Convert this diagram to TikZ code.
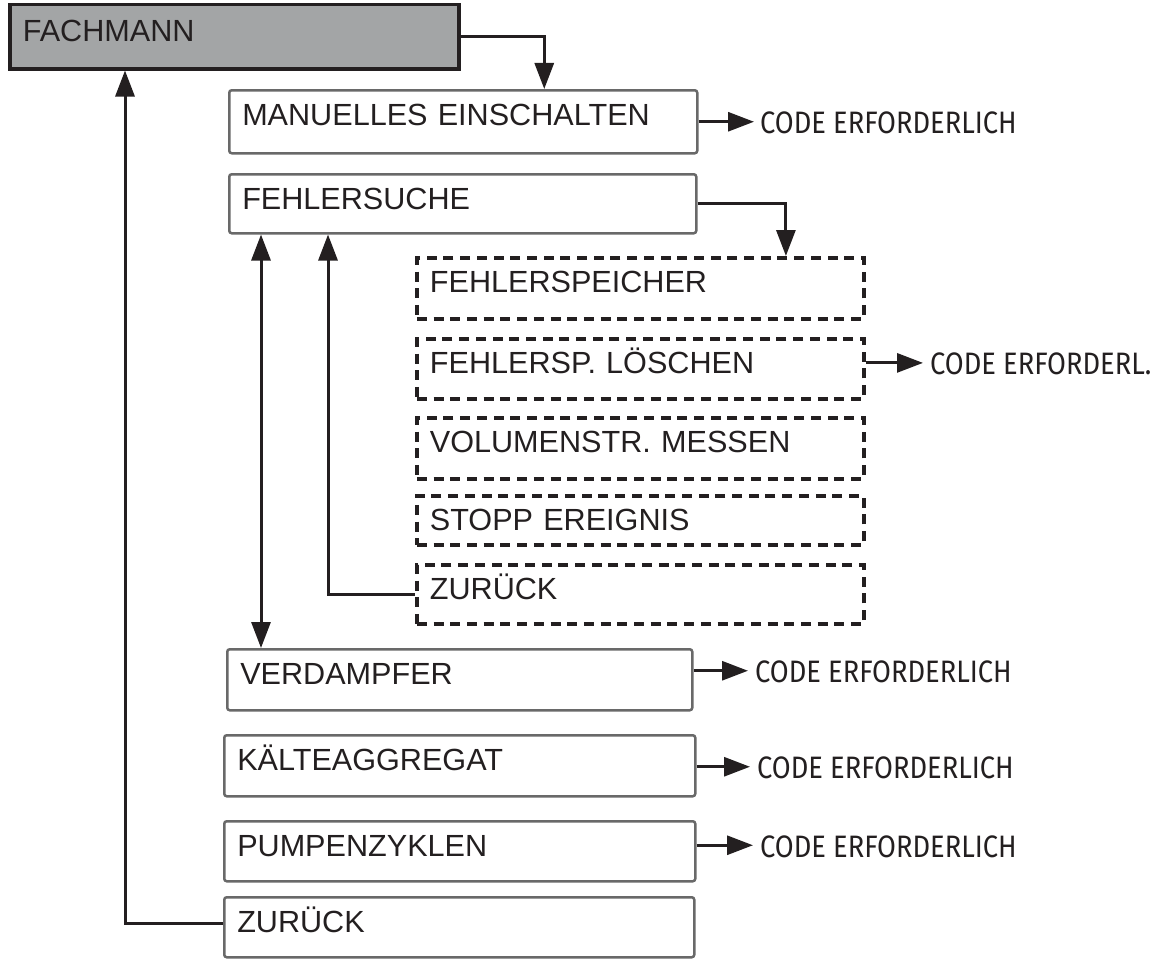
\documentclass[tikz,border=0pt]{standalone}
\usepackage{fontspec}
\setmainfont{Liberation Sans}
\newfontfamily\codefont[FakeStretch=0.88]{Fira Sans}
\usetikzlibrary{arrows.meta,calc}

\definecolor{ink}{RGB}{35,31,32}
\definecolor{headfill}{RGB}{163,165,166}
\definecolor{frame}{RGB}{105,105,105}

\tikzset{
  menubox/.style={draw=frame, line width=2.5pt, rounded corners=2.5pt,
    anchor=north west, inner xsep=13pt, inner ysep=0pt, align=left,
    text height=35pt, text=ink,
    font=\fontsize{30.6pt}{36pt}\selectfont},
  headbox/.style={menubox, draw=ink, line width=3.5pt, rounded corners=0pt,
    fill=headfill, text height=37pt},
  subbox/.style={menubox, draw=ink, line width=3.8pt, rounded corners=0pt,
    dash pattern=on 10pt off 6.7pt},
  codelabel/.style={anchor=west, inner sep=0pt, text=ink,
    font=\codefont\fontsize{31pt}{36pt}\selectfont},
  link/.style={draw=ink, line width=3pt},
  tip/.style={link, -{Triangle[length=26pt,width=19pt]}},
  twotip/.style={link, {Triangle[length=26pt,width=19pt]}-{Triangle[length=26pt,width=19pt]}},
}

\begin{document}
\begin{tikzpicture}[x=1pt,y=-1pt]
  \useasboundingbox (0,0) rectangle (1161,966);

  % main menu column
  \node[headbox, text width=423pt, text depth=27pt] (fach) at (8,3) {FACHMANN};
  \node[menubox, text width=442pt, text depth=28pt] (man)  at (228,89)  {MANUELLES EINSCHALTEN};
  \node[menubox, text width=441pt, text depth=24pt] (fs)   at (228,173) {FEHLERSUCHE};
  \node[menubox, text width=439pt, text depth=26pt] (verd) at (226,648) {VERDAMPFER};
  \node[menubox, text width=445pt, text depth=26pt] (kalt) at (223,734) {KÄLTEAGGREGAT};
  \node[menubox, text width=445pt, text depth=25pt] (pump) at (223,820) {PUMPENZYKLEN};
  \node[menubox, text width=444pt, text depth=25pt] (zur)  at (223,896) {ZURÜCK};

  % submenu of FEHLERSUCHE
  \node[subbox, text width=421pt, text depth=26pt] (fsp)  at (415,256) {FEHLERSPEICHER};
  \node[subbox, text width=421pt, text depth=25pt] (fsl)  at (415,337) {FEHLERSP. LÖSCHEN};
  \node[subbox, text width=421pt, text depth=26pt] (vol)  at (415,416) {VOLUMENSTR. MESSEN};
  \node[subbox, text width=421pt, text depth=14pt] (stop) at (415,494) {STOPP EREIGNIS};
  \node[subbox, text width=421pt, text depth=24pt] (zsub) at (415,563) {ZURÜCK};

  % code notes
  \node[codelabel] (c1) at (760,123) {CODE ERFORDERLICH};
  \node[codelabel] (c2) at (930,364) {CODE ERFORDERL.};
  \node[codelabel] (c3) at (755,672) {CODE ERFORDERLICH};
  \node[codelabel] (c4) at (757,768) {CODE ERFORDERLICH};
  \node[codelabel] (c5) at (760,847) {CODE ERFORDERLICH};

  % menu flow
  \draw[tip] (fach.east) -| ([xshift=81pt]man.north);
  \draw[tip] (fs.east) -| ([xshift=145.5pt]fsp.north);
  \draw[twotip] ([xshift=33pt]fs.south west) -- ([xshift=33pt]fs.south west |- verd.north);
  \draw[tip] (zsub.west) -| ([xshift=100pt]fs.south west);
  \draw[tip] ([yshift=4pt]zur.west) -| ([xshift=117pt]fach.south west);

  % arrows to the code notes
  \draw[tip, shorten >=6pt] (man.east) -- (man.east -| c1.west);
  \draw[tip, shorten >=7pt] ([yshift=6pt]fsl.east) -- ([yshift=6pt]fsl.east -| c2.west);
  \draw[tip, shorten >=7pt] ([yshift=9pt]verd.east) -- ([yshift=9pt]verd.east -| c3.west);
  \draw[tip, shorten >=7pt] ([yshift=-1pt]kalt.east) -- ([yshift=-1pt]kalt.east -| c4.west);
  \draw[tip, shorten >=7pt] ([yshift=6pt]pump.east) -- ([yshift=6pt]pump.east -| c5.west);
\end{tikzpicture}
\end{document}
